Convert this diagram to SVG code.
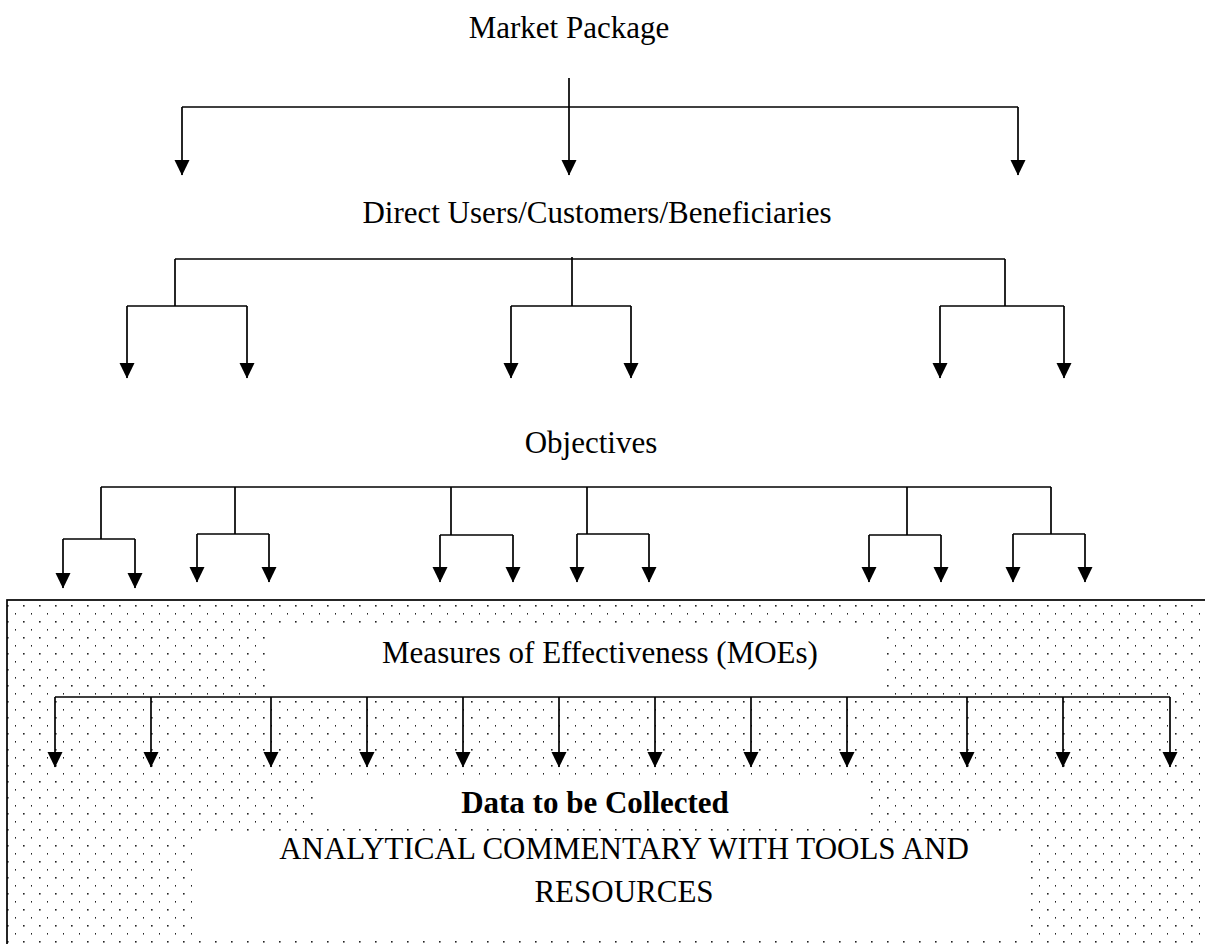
<svg xmlns="http://www.w3.org/2000/svg" width="1205" height="944" viewBox="0 0 1205 944">
  <style>
    .lbl { font-family: "Liberation Serif", "Times New Roman", serif; font-size: 31px; fill: #000; text-anchor: middle; }
    .bold { font-weight: bold; }
    .wire { fill: none; stroke: #000; stroke-width: 1.7; }
    .arrow { fill: none; stroke: #000; stroke-width: 1.7; marker-end: url(#head); }
    .blank { fill: #fff; stroke: none; }
  </style>
  <defs>
    <marker id="head" viewBox="0 -8 16 16" refX="15" refY="0" markerWidth="16" markerHeight="16" markerUnits="userSpaceOnUse" orient="auto">
      <path d="M0,-7.5 L15.5,0 L0,7.5 z" fill="#000"/>
    </marker>
    <pattern id="dots" x="0" y="0" width="16" height="16" patternUnits="userSpaceOnUse">
      <rect x="7" y="13" width="1.6" height="1.6" fill="#222"/>
      <rect x="15" y="5" width="1.6" height="1.6" fill="#222"/>
    </pattern>
  </defs>

  <rect width="1205" height="944" fill="#fff"/>

  <!-- shaded panel holding the lower levels -->
  <g id="panel">
    <rect x="7" y="600" width="1220" height="370" fill="url(#dots)" stroke="#000" stroke-width="1.7"/>
  </g>

  <g id="market-package">
    <text class="lbl" x="569" y="38">Market Package</text>
  </g>

  <g id="direct-users">
    <text class="lbl" x="597" y="223">Direct Users/Customers/Beneficiaries</text>
  </g>

  <g id="objectives">
    <text class="lbl" x="591" y="453">Objectives</text>
  </g>

  <g id="moes">
    <rect class="blank" x="270" y="624" width="616" height="72"/>
    <text class="lbl" x="600" y="663">Measures of Effectiveness (MOEs)</text>
  </g>

  <g id="data-collected">
    <rect class="blank" x="318" y="777" width="552" height="52"/>
    <text class="lbl bold" x="595" y="813">Data to be Collected</text>
  </g>

  <g id="analytical-commentary">
    <rect class="blank" x="192" y="834" width="838" height="106"/>
    <text class="lbl" x="624" y="859">ANALYTICAL COMMENTARY WITH TOOLS AND</text>
    <text class="lbl" x="624" y="902">RESOURCES</text>
  </g>

  <g id="connectors">
    <!-- Market Package fan-out -->
    <line class="wire" x1="569" y1="78" x2="569" y2="107" stroke-width="1.3"/>
    <line class="wire" x1="182" y1="107" x2="1018" y2="107"/>
    <line class="arrow" x1="182" y1="107" x2="182" y2="175"/>
    <line class="arrow" x1="569" y1="107" x2="569" y2="175"/>
    <line class="arrow" x1="1018" y1="107" x2="1018" y2="175"/>

    <!-- Direct users fan-out -->
    <line class="wire" x1="175" y1="259" x2="1005" y2="259"/>
    <line class="wire" x1="175" y1="259" x2="175" y2="306"/>
    <line class="wire" x1="572" y1="257" x2="572" y2="306" stroke-width="1.3"/>
    <line class="wire" x1="1005" y1="259" x2="1005" y2="306"/>
    <line class="wire" x1="127" y1="306" x2="247" y2="306"/>
    <line class="wire" x1="511" y1="306" x2="631" y2="306"/>
    <line class="wire" x1="940" y1="306" x2="1064" y2="306"/>
    <line class="arrow" x1="127" y1="306" x2="127" y2="378"/>
    <line class="arrow" x1="247" y1="306" x2="247" y2="378"/>
    <line class="arrow" x1="511" y1="306" x2="511" y2="378"/>
    <line class="arrow" x1="631" y1="306" x2="631" y2="378"/>
    <line class="arrow" x1="940" y1="306" x2="940" y2="378"/>
    <line class="arrow" x1="1064" y1="306" x2="1064" y2="378"/>

    <!-- Objectives fan-out -->
    <line class="wire" x1="101" y1="487" x2="1051" y2="487"/>
    <line class="wire" x1="101" y1="487" x2="101" y2="539"/>
    <line class="wire" x1="63" y1="539" x2="135" y2="539"/>
    <line class="arrow" x1="63" y1="539" x2="63" y2="588"/>
    <line class="arrow" x1="135" y1="539" x2="135" y2="588"/>

    <line class="wire" x1="235" y1="487" x2="235" y2="534"/>
    <line class="wire" x1="197" y1="534" x2="269" y2="534"/>
    <line class="arrow" x1="197" y1="534" x2="197" y2="582"/>
    <line class="arrow" x1="269" y1="534" x2="269" y2="582"/>

    <line class="wire" x1="451" y1="487" x2="451" y2="535"/>
    <line class="wire" x1="440" y1="535" x2="513" y2="535"/>
    <line class="arrow" x1="440" y1="535" x2="440" y2="582"/>
    <line class="arrow" x1="513" y1="535" x2="513" y2="582"/>

    <line class="wire" x1="587" y1="487" x2="587" y2="534"/>
    <line class="wire" x1="577" y1="534" x2="649" y2="534"/>
    <line class="arrow" x1="577" y1="534" x2="577" y2="582"/>
    <line class="arrow" x1="649" y1="534" x2="649" y2="582"/>

    <line class="wire" x1="907" y1="487" x2="907" y2="535"/>
    <line class="wire" x1="869" y1="535" x2="941" y2="535"/>
    <line class="arrow" x1="869" y1="535" x2="869" y2="582"/>
    <line class="arrow" x1="941" y1="535" x2="941" y2="582"/>

    <line class="wire" x1="1051" y1="487" x2="1051" y2="534"/>
    <line class="wire" x1="1013" y1="534" x2="1085" y2="534"/>
    <line class="arrow" x1="1013" y1="534" x2="1013" y2="582"/>
    <line class="arrow" x1="1085" y1="534" x2="1085" y2="582"/>

    <!-- MOE fan-out -->
    <line class="wire" x1="55" y1="697" x2="1170" y2="697"/>
    <line class="arrow" x1="55" y1="697" x2="55" y2="767"/>
    <line class="arrow" x1="151" y1="697" x2="151" y2="767"/>
    <line class="arrow" x1="271" y1="697" x2="271" y2="767"/>
    <line class="arrow" x1="367" y1="697" x2="367" y2="767"/>
    <line class="arrow" x1="463" y1="697" x2="463" y2="767"/>
    <line class="arrow" x1="559" y1="697" x2="559" y2="767"/>
    <line class="arrow" x1="655" y1="697" x2="655" y2="767"/>
    <line class="arrow" x1="751" y1="697" x2="751" y2="767"/>
    <line class="arrow" x1="847" y1="697" x2="847" y2="767"/>
    <line class="arrow" x1="967" y1="697" x2="967" y2="767"/>
    <line class="arrow" x1="1063" y1="697" x2="1063" y2="767"/>
    <line class="arrow" x1="1170" y1="697" x2="1170" y2="767"/>
  </g>
</svg>
